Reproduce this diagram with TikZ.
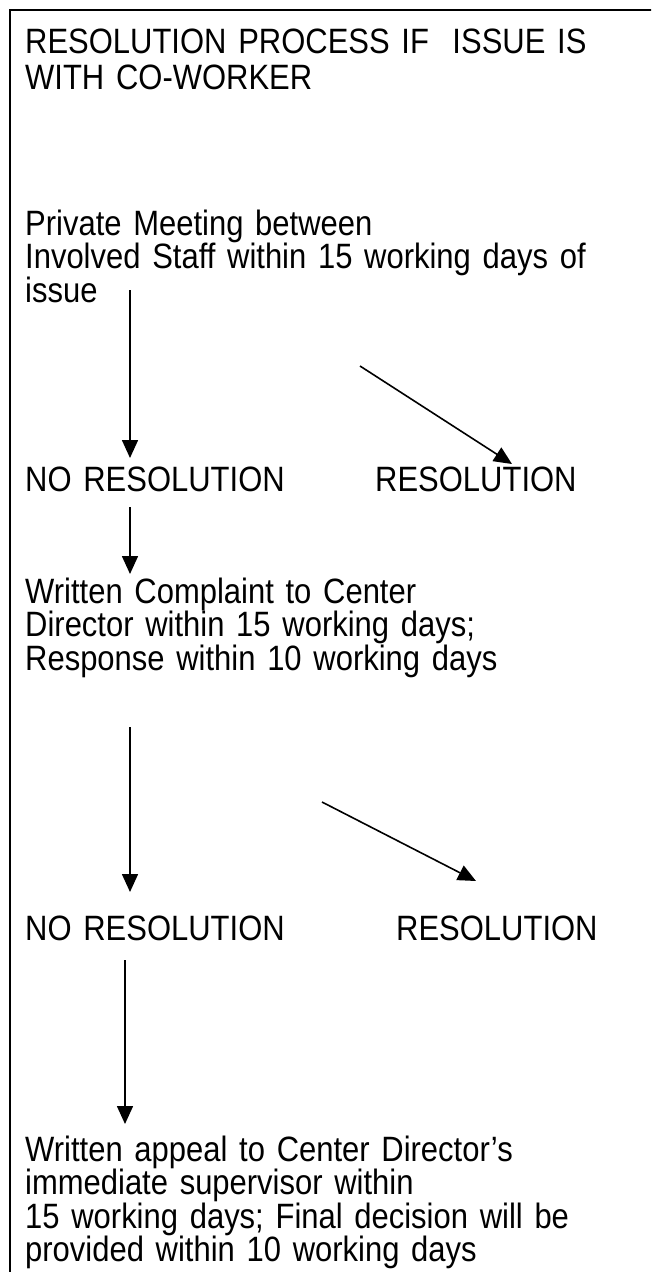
\documentclass[tikz,border=0pt]{standalone}
\usepackage{fontspec}
\setmainfont{Liberation Sans}[FakeStretch=0.88,WordSpace=0.85]
\usetikzlibrary{arrows.meta}
\begin{document}
\begin{tikzpicture}[x=1pt,y=-1pt,
  txt/.style={anchor=base west, inner sep=0pt, align=left, text width=640pt, font=\fontsize{35.2}{33.5}\selectfont},
  ttl/.style={txt, font=\fontsize{35.2}{36}\selectfont},
  arr/.style={line width=1.6pt, -{Triangle[length=18pt,width=16pt]}},
  frame/.style={line width=2pt}]
\useasboundingbox (0,0) rectangle (651,1272);
\clip (0,0) rectangle (651,1272);
\draw[frame] (10,10) rectangle (720,1340);
\node[ttl] (title) at (25,53) {RESOLUTION PROCESS IF\ \ ISSUE IS\\WITH CO-WORKER};
\node[txt] (meet) at (25,235) {Private Meeting between\\Involved Staff within 15 working days of\\issue};
\node[txt] (nores1) at (25,491) {NO RESOLUTION};
\node[txt] (res1) at (375,491) {RESOLUTION};
\node[txt] (compl) at (25,603) {Written Complaint to Center\\Director within 15 working days;\\Response within 10 working days};
\node[txt] (nores2) at (25,940) {NO RESOLUTION};
\node[txt] (res2) at (396,940) {RESOLUTION};
\node[txt] (appeal) at (25,1161) {Written appeal to Center Director’s\\immediate supervisor within\\15 working days; Final decision will be\\provided within 10 working days};
\coordinate (a1s) at (130,290); \coordinate (a1e) at (130,458);
\coordinate (a2s) at (360,366); \coordinate (a2e) at (512,464);
\coordinate (a3s) at (130,507); \coordinate (a3e) at (130,574);
\coordinate (a4s) at (130,727); \coordinate (a4e) at (130,892);
\coordinate (a5s) at (322,802); \coordinate (a5e) at (476,881);
\coordinate (a6s) at (125,960); \coordinate (a6e) at (125,1124);
\draw[arr] (a1s) -- (a1e);
\draw[arr] (a2s) -- (a2e);
\draw[arr] (a3s) -- (a3e);
\draw[arr] (a4s) -- (a4e);
\draw[arr] (a5s) -- (a5e);
\draw[arr] (a6s) -- (a6e);
\end{tikzpicture}
\end{document}
